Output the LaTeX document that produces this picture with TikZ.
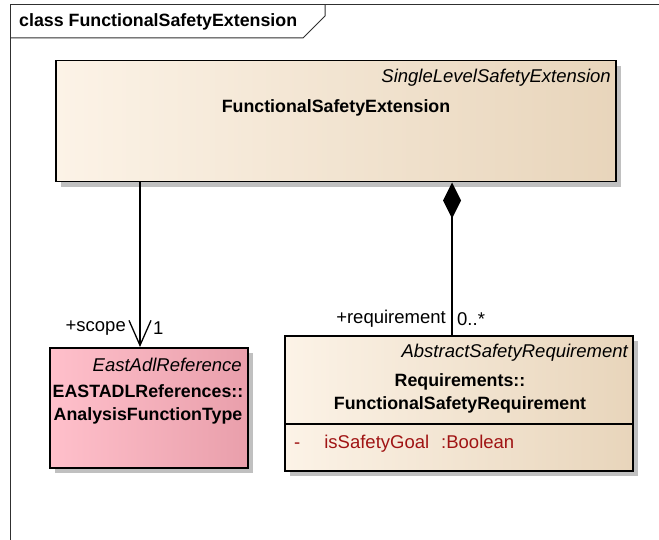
\documentclass[tikz,border=0pt]{standalone}
\usepackage{fontspec}
\setmainfont{Liberation Sans}
\usetikzlibrary{arrows.meta, shadows, positioning}
\definecolor{eaCreamL}{HTML}{FCF3E7}
\definecolor{eaCreamR}{HTML}{E8D5BB}
\definecolor{eaPinkL}{HTML}{FFC0CB}
\definecolor{eaPinkR}{HTML}{E99FAB}
\definecolor{eaShadow}{HTML}{C0C0C0}
\definecolor{eaFrame}{HTML}{303030}
\definecolor{eaAttr}{HTML}{A01414}
\newcommand{\umlfont}{\fontsize{18.5}{23}\selectfont}
\newcommand{\umlbold}{\fontsize{17.8}{23}\selectfont\bfseries}
\tikzset{
  frameline/.style = {eaFrame, line width=1pt},
  classbox/.style  = {draw=black, line width=1.5pt, rectangle, anchor=north west,
                      inner sep=0pt,
                      drop shadow={shadow xshift=5pt, shadow yshift=-5pt,
                                   fill=eaShadow, opacity=1}},
  creambox/.style  = {classbox, left color=eaCreamL, right color=eaCreamR},
  pinkbox/.style   = {classbox, left color=eaPinkL, right color=eaPinkR},
  stereo/.style    = {font=\umlfont\itshape, anchor=east, inner sep=0pt},
  cname/.style     = {font=\umlbold, align=center, inner sep=0pt},
  role/.style      = {font=\umlfont, inner sep=0pt},
  attr/.style      = {font=\umlfont, eaAttr, anchor=west, inner sep=0pt},
  assoc/.style     = {line width=1.3pt, black},
  divider/.style   = {line width=1.3pt, black},
}

\begin{document}
\begin{tikzpicture}[x=1pt, y=-1pt]
  \useasboundingbox (0,0) rectangle (659,540);

  % diagram frame
  \draw[frameline] (10,540) -- (10,5) -- (659,5);
  \draw[frameline] (10,38) -- (303,38) -- (325,16) -- (325,5);
  \node[font=\umlbold, anchor=west, inner sep=0pt] (title) at (19,22)
    {class FunctionalSafetyExtension};

  % classes
  \node[creambox, minimum width=560pt, minimum height=121pt] (ext) at (55,60) {};
  \node[stereo] (extst) at (611,78) {SingleLevelSafetyExtension};
  \node[cname] (extname) at (336,108) {FunctionalSafetyExtension};

  \node[pinkbox, minimum width=198pt, minimum height=120pt] (afun) at (49,347) {};
  \node[stereo] (afunst) at (242,365) {EastAdlReference};
  \node[cname] (afunname) at (148,404) {EASTADLReferences::\\AnalysisFunctionType};

  \node[creambox, minimum width=348pt, minimum height=135pt] (req) at (284,335) {};
  \node[stereo] (reqst) at (628,353) {AbstractSafetyRequirement};
  \node[cname] (reqname) at (460,393) {Requirements::\\FunctionalSafetyRequirement};
  \draw[divider] ([yshift=-89pt]req.north west) -- ([yshift=-89pt]req.north east);
  \node[attr] (goal) at (294,444) {-\hspace{24pt}isSafetyGoal\hspace{12pt}:Boolean};

  % associations
  \coordinate (scopeEnd) at (140,347);
  \coordinate (reqEnd) at (452,335);
  \draw[assoc, -{Straight Barb[length=25pt, width=22pt]}] (ext.south -| scopeEnd) -- (scopeEnd);
  \node[role, anchor=east] (scoperole) at (126,328) {+scope};
  \node[role, anchor=west] (scopemult) at (153,328) {1};
  \draw[assoc, {Diamond[length=36pt, width=18pt]}-] (ext.south -| reqEnd) -- (reqEnd);
  \node[role, anchor=east] (reqrole) at (446,319) {+requirement};
  \node[role, anchor=west] (reqmult) at (457,319) {0..*};
\end{tikzpicture}
\end{document}
